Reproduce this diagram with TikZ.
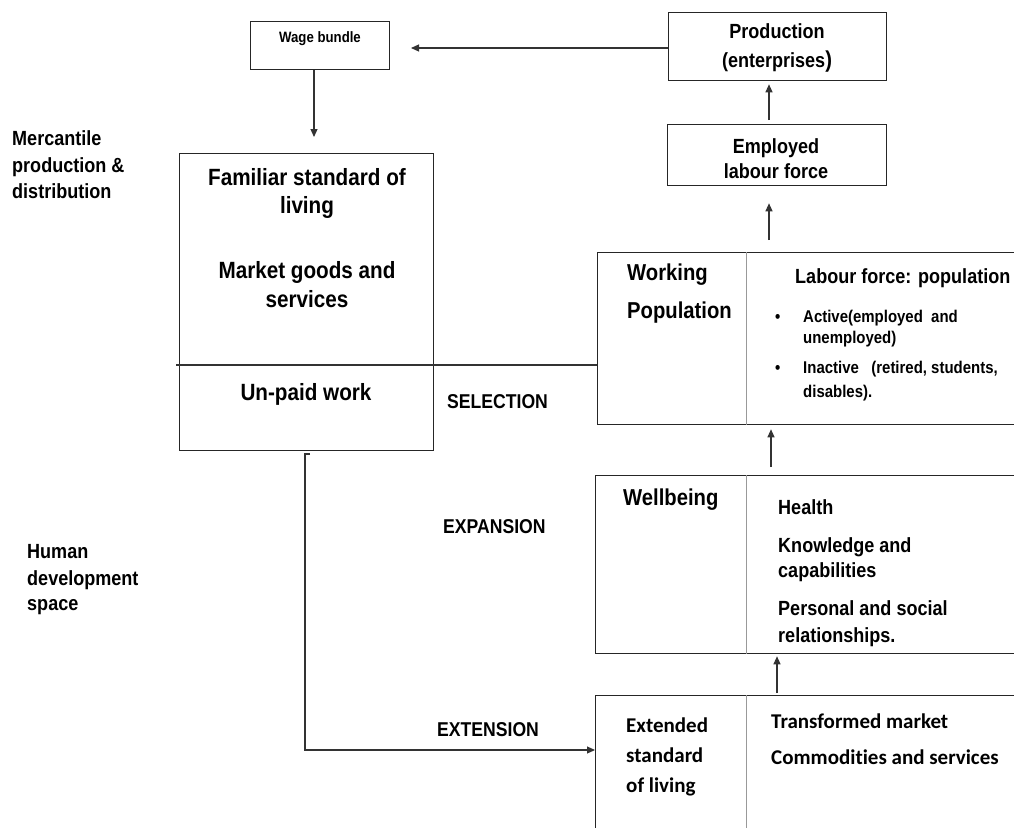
\documentclass[tikz,border=0pt]{standalone}
\usepackage{fontspec}
\setmainfont{Liberation Sans}[FakeStretch=0.88]
\newfontfamily\calib{Carlito}[Ligatures=NoCommon]
\usetikzlibrary{arrows.meta}

\newcommand\fsz[1]{\fontsize{#1}{#1}\selectfont\bfseries}

\begin{document}
\begin{tikzpicture}[x=1pt,y=-1pt,
  box/.style={draw=black!85, line width=1.3pt, anchor=north west, inner sep=0pt, rectangle},
  divider/.style={draw=black!40, line width=1pt},
  conn/.style={draw=black!80, line width=1.1pt},
  arr/.style={conn, -{Triangle[length=8pt,width=7pt]}},
  tl/.style={inner sep=0pt, anchor=base west},
  tc/.style={inner sep=0pt, anchor=base},
]
\useasboundingbox (0,0) rectangle (1014,827);
\clip (0,0) rectangle (1014,827);

% ---- boxes ----
\node[box, minimum width=139pt, minimum height=48pt] (wage) at (250,21) {};
\node[box, minimum width=218pt, minimum height=68pt] (prod) at (668,12) {};
\node[box, minimum width=219pt, minimum height=61pt] (emp) at (667,124) {};
\node[box, minimum width=254pt, minimum height=297pt] (fam) at (179,153) {};
\node[box, minimum width=440pt, minimum height=172pt] (wp) at (597,252) {};
\node[box, minimum width=440pt, minimum height=178pt] (wb) at (595,475) {};
\node[box, minimum width=440pt, minimum height=160pt] (ext) at (595,695) {};

% column dividers inside the right-hand boxes
\coordinate (dv) at (746,0);
\draw[divider] (wp.north -| dv) -- (wp.south -| dv);
\draw[divider] (wb.north -| dv) -- (wb.south -| dv);
\draw[divider] (ext.north -| dv) -- (ext.south -| dv);

% ---- side labels ----
\node[tl] (merc1) at (12,145) {\fsz{20.5}Mercantile};
\node[tl] (merc2) at (12,172) {\fsz{20.5}production \&};
\node[tl] (merc3) at (12,198) {\fsz{20.5}distribution};
\node[tl] (hum1) at (27,558) {\fsz{20.5}Human};
\node[tl] (hum2) at (27,585) {\fsz{20.5}development};
\node[tl] (hum3) at (27,610) {\fsz{20.5}space};

% ---- box texts ----
\node[tc] (wagetxt) at (320,42) {\fsz{15}Wage bundle};

\node[tc] (fam1) at (307,185) {\fsz{23.5}Familiar standard of};
\node[tc] (fam2) at (307,213) {\fsz{23.5}living};
\node[tc] (fam3) at (307,278) {\fsz{23.5}Market goods and};
\node[tc] (fam4) at (307,307) {\fsz{23.5}services};
\node[tc] (unpaid) at (306,400) {\fsz{23.5}Un-paid work};

\node[tc] (prod1) at (777,38) {\fsz{20.5}Production};
\node[tc] (prod2) at (777,67) {\fsz{20.5}(enterprises{\fontsize{23}{23}\selectfont)}};

\node[tc] (emp1) at (776,153) {\fsz{20.5}Employed};
\node[tc] (emp2) at (776,178) {\fsz{20.5}labour force};

\node[tl] (wp1) at (627,280) {\fsz{23}Working};
\node[tl] (wp2) at (627,318) {\fsz{23}Population};
\node[tl] (lf) at (795,283) {\fsz{20.5}Labour force: population};
\node[tl] (bul1) at (775,322) {\fsz{17}\textbullet};
\node[tl] (act1) at (803,322) {\fsz{17}Active(employed\ \ and};
\node[tl] (act2) at (803,343) {\fsz{17}unemployed)};
\node[tl] (bul2) at (775,373) {\fsz{17}\textbullet};
\node[tl] (ina1) at (803,373) {\fsz{17}Inactive\ \ \ (retired, students,};
\node[tl] (ina2) at (803,397) {\fsz{17}disables).};

\node[tl] (wb1) at (623,505) {\fsz{23}Wellbeing};
\node[tl] (hl1) at (778,514) {\fsz{20.5}Health};
\node[tl] (hl2) at (778,552) {\fsz{20.5}Knowledge and};
\node[tl] (hl3) at (778,577) {\fsz{20.5}capabilities};
\node[tl] (hl4) at (778,615) {\fsz{20.5}Personal and social};
\node[tl] (hl5) at (778,642) {\fsz{20.5}relationships.};

\node[tl] (ex1) at (626,732) {\calib\fontsize{21}{21}\selectfont\bfseries Extended};
\node[tl] (ex2) at (626,762) {\calib\fontsize{21}{21}\selectfont\bfseries standard};
\node[tl] (ex3) at (626,792) {\calib\fontsize{21}{21}\selectfont\bfseries of living};
\node[tl] (tm1) at (771,728) {\calib\fontsize{21}{21}\selectfont\bfseries Transformed market};
\node[tl] (tm2) at (771,764) {\calib\fontsize{21}{21}\selectfont\bfseries Commodities and services};

\node[tl] (sel) at (447,408) {\fsz{20}SELECTION};
\node[tl] (expn) at (443,533) {\fsz{20}EXPANSION};
\node[tl] (extn) at (437,736) {\fsz{20}EXTENSION};

% ---- connectors ----
\coordinate (wagein) at (411,48);
\draw[arr] (prod.west |- wagein) -- (wagein);

\coordinate (famin) at (314,137);
\draw[arr] (wage.south -| famin) -- (famin);

\coordinate (c1) at (769,0);
\draw[arr, shorten <=4pt, shorten >=3pt] (emp.north -| c1) -- (prod.south -| c1);
\draw[arr, shorten <=12pt, shorten >=17pt] (wp.north -| c1) -- (emp.south -| c1);
\coordinate (c2) at (771,0);
\draw[arr, shorten <=8pt, shorten >=4pt] (wb.north -| c2) -- (wp.south -| c2);
\coordinate (c3) at (777,0);
\draw[arr, shorten <=2pt, shorten >=2pt] (ext.north -| c3) -- (wb.south -| c3);

% divider line through the familiar box, running on to the working population box
\coordinate (split) at (176,365);
\draw[conn] (split) -- (wp.west |- split);

% extension path from the unpaid-work box down to the extended standard of living
\coordinate (b0) at (310,454);
\coordinate (b1) at (305,454);
\coordinate (b2) at (305,750);
\draw[arr] (b0) -- (b1) |- (ext.west |- b2);
\end{tikzpicture}
\end{document}
